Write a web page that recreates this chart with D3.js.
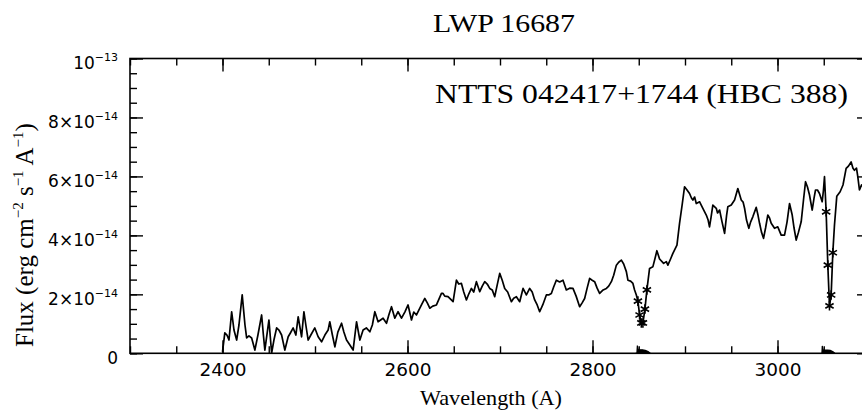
<!DOCTYPE html>
<html><head><meta charset="utf-8">
<script src="https://cdn.jsdelivr.net/npm/d3@7"></script>
<style>
html,body{margin:0;padding:0;background:#fff;}
svg{display:block;}
</style></head>
<body>
<svg id="chart" width="862" height="410"></svg>
<script>
// ---- data (flux in units of 1e-14 erg cm^-2 s^-1 A^-1) ----
const FLUX_UNIT = 1e-14;
const wavelength = [2400,2402.5,2404.8,2407,2409.9,2412.4,2415.3,2417.8,2421.3,2424.3,2426.1,2428.6,2431.5,2435,2438.3,2442.3,2444.2,2445.8,2450.2,2453.1,2455.6,2458.5,2461,2463.9,2467.4,2471,2473.4,2476.4,2479.3,2481.8,2485.5,2488,2490.1,2492.6,2495.5,2499.8,2503.4,2507.1,2510.7,2514.2,2516,2518.8,2521.5,2524.7,2528.7,2531.2,2534.1,2537.7,2541.2,2544.9,2548.5,2552,2555.5,2559.3,2562,2564.7,2568.2,2573.6,2577.3,2579.8,2582.7,2586.3,2589.8,2593.5,2597.1,2600.6,2604.3,2606.8,2609.7,2615.1,2618.7,2621.4,2624.1,2627.3,2631.3,2636.7,2638.4,2640.3,2643.8,2649.3,2652.9,2655.4,2658.3,2660.8,2663.7,2666.2,2669.1,2671.6,2674.5,2678.1,2680.8,2683.5,2686.2,2688.9,2691.6,2694.3,2697,2699.7,2702.4,2705.1,2708.3,2712.3,2714.8,2717.7,2721.3,2724.9,2728.5,2732.1,2734.8,2737.5,2740.2,2742.9,2746.2,2750.1,2752.6,2755.5,2758,2760.9,2764.5,2768.1,2771.7,2775.3,2778.9,2782.3,2786.1,2788.8,2791.5,2794.2,2796.9,2799.6,2802.3,2805,2807.7,2811.5,2815,2817.5,2820.4,2822.9,2825.8,2828.3,2831.2,2833.7,2836.6,2838.3,2841.2,2843.7,2845.5,2847.4,2849.1,2850.9,2852.8,2854.5,2856.7,2858.8,2861.7,2865.3,2867.7,2869.6,2872.5,2876.9,2879.8,2881.5,2884.4,2886.9,2889.3,2891.3,2894.1,2897.1,2899.5,2902.2,2904.9,2907.1,2908.5,2910.4,2912.2,2915.8,2919.3,2923,2925,2926.5,2928.2,2930.1,2933.8,2935.2,2937.4,2940.1,2942.8,2945,2946.3,2950,2953.6,2957.1,2960.8,2962.8,2964.4,2966.5,2969,2970.9,2973.3,2977,2978.9,2980.6,2982.7,2984.9,2987.1,2989.5,2991.4,2993.2,2996.8,3000.3,3004,3007.6,3010.3,3013,3015.9,3017.9,3020.2,3022.7,3025.6,3028.1,3030.3,3032.4,3034.6,3037.5,3039.5,3041.1,3043.2,3045.4,3048.3,3049.7,3050.8,3052.6,3054.4,3056.2,3058,3059.8,3061.6,3064.1,3067.7,3070.8,3074.2,3076.7,3079.6,3081.6,3083.2,3085.4,3086.8,3088.6,3090.8,3094];
const flux = [0.05,0.69,0.62,0.45,1.41,0.79,0.45,0.96,1.98,0.96,0.52,0.59,0.52,0.11,0.62,1.30,0.62,0.11,1.13,0.01,0.45,0.86,0.79,0.62,0.11,0.56,0.69,0.86,0.62,1.24,0.56,1.41,0.96,0.45,0.62,0.86,0.56,0.39,0.62,0.79,1.07,0.62,0.22,0.72,1.02,0.72,0.45,0.28,0.11,1.07,0.45,0.79,0.86,0.73,0.96,1.41,1.07,1.19,1.02,1.30,1.58,1.19,1.41,1.19,1.40,1.64,1.13,1.40,1.30,1.64,1.86,1.71,1.53,1.60,1.64,2.03,2.03,1.94,1.92,1.75,2.48,2.35,2.37,2.08,1.81,2.01,2.20,2.08,2.43,2.09,2.28,2.43,2.35,2.20,2.15,1.92,2.32,2.71,2.48,2.20,2.08,1.75,1.87,1.92,1.75,2.20,1.98,2.20,2.08,1.81,1.64,1.41,1.64,1.98,1.98,2.03,2.25,2.48,2.42,2.48,2.15,2.21,2.20,1.94,1.58,1.71,1.86,2.21,2.54,2.48,2.43,2.21,2.03,2.15,2.20,2.28,2.43,2.65,2.99,3.09,3.16,3.03,2.77,2.48,2.45,2.37,2.15,1.98,1.77,1.30,1.03,1.03,1.50,2.15,2.88,2.94,3.23,3.48,3.20,3.05,3.11,2.99,3.20,3.39,3.54,3.67,4.41,5.08,5.65,5.54,5.42,5.26,5.20,5.30,5.08,5.14,4.92,4.69,4.52,4.29,4.62,5.03,4.92,4.76,4.86,4.45,4.07,4.69,4.97,5.03,5.20,5.59,5.20,5.13,4.92,4.52,4.24,4.45,4.63,4.95,4.69,4.41,4.11,3.90,4.25,4.69,4.59,4.41,4.24,4.29,4.01,4.01,4.45,5.08,4.69,4.25,3.84,4.11,4.46,5.20,5.82,5.64,5.37,4.86,5.26,5.54,5.54,5.42,5.14,5.54,5.99,4.80,2.99,1.61,1.98,3.41,4.35,5.33,5.48,5.71,6.27,6.35,6.49,6.28,6.21,6.28,5.99,5.54,5.71,5.60];
// flagged (asterisk) points
const starWave = [2849.1,2850.9,2852.8,2854.5,2856.7,2858.8,3052.6,3054.4,3056.2,3058,3059.8];
const starFlux = [1.77,1.30,1.03,1.03,1.50,2.15,4.80,2.99,1.61,1.98,3.41];
// quality-flag bumps drawn along the zero line
const flagWave1 = [2846.5,2848,2848.5,2849.3,2851,2854,2857,2860,2862.5];
const flagFlux1 = [0,0,0.26,0.13,0.12,0.12,0.10,0.06,0];
const flagWave2 = [3047.5,3048,3048.4,3049.2,3051,3054,3057,3060,3062];
const flagFlux2 = [0,0,0.25,0.12,0.11,0.11,0.10,0.05,0];
// ticks
const xMajorTicks = [2400,2600,2800,3000];
const xMinorTicks = d3.range(2300,3101,50);
const yMajorTicks = [0,2e-14,4e-14,6e-14,8e-14,1e-13];
const yMinorTicks = d3.range(0,21).map(i=>i*0.5e-14);
const yTickBase = ["0","2×10","4×10","6×10","8×10","10"];
const yTickExp  = ["","−14","−14","−14","−14","−13"];
const titleText = "LWP 16687";
const objectText = "NTTS 042417+1744 (HBC 388)";
const xTitle = "Wavelength (A)";

// ---- layout ----
const L=130, R=870, T=58.5, B=353.3;
const svg = d3.select("#chart");
const x = d3.scaleLinear().domain([2300,3100]).range([L,R]);
const y = d3.scaleLinear().domain([0,1e-13]).range([B,T]);

const axisStyle = g => { g.select(".domain").remove(); g.selectAll("line").attr("stroke","#000").attr("stroke-width",1.4); };

// bottom
svg.append("g").attr("transform",`translate(0,${B})`)
  .call(d3.axisBottom(x).tickValues(xMinorTicks).tickSize(-7).tickFormat(""))
  .call(axisStyle);
const xb = svg.append("g").attr("transform",`translate(0,${B})`)
  .call(d3.axisBottom(x).tickValues(xMajorTicks).tickSize(-13).tickPadding(11).tickFormat(d3.format("d")))
  .call(axisStyle);
xb.selectAll("text").attr("font-family","'DejaVu Sans',sans-serif").attr("font-size",17)
  .attr("fill","#000").attr("textLength",47).attr("lengthAdjust","spacingAndGlyphs");
// top
svg.append("g").attr("transform",`translate(0,${T})`)
  .call(d3.axisTop(x).tickValues(xMinorTicks).tickSize(-7).tickFormat(""))
  .call(axisStyle);
svg.append("g").attr("transform",`translate(0,${T})`)
  .call(d3.axisTop(x).tickValues(xMajorTicks).tickSize(-13).tickFormat(""))
  .call(axisStyle);
// left
svg.append("g").attr("transform",`translate(${L},0)`)
  .call(d3.axisLeft(y).tickValues(yMinorTicks).tickSize(-7).tickFormat(""))
  .call(axisStyle);
const yl = svg.append("g").attr("transform",`translate(${L},0)`)
  .call(d3.axisLeft(y).tickValues(yMajorTicks).tickSize(-13).tickFormat(""))
  .call(axisStyle);
yl.selectAll(".tick").each(function(d,i){
  const t = d3.select(this).select("text")
    .attr("x",-12).attr("dy",null).attr("y",10)
    .attr("text-anchor","end").attr("fill","#000")
    .attr("font-family","'DejaVu Sans',sans-serif").attr("font-size",17);
  t.text(null);
  t.append("tspan").text(yTickBase[i]);
  if (yTickExp[i]) t.append("tspan").attr("dy",-8).attr("font-size",11).text(yTickExp[i]);
});
// right
svg.append("g").attr("transform",`translate(${R},0)`)
  .call(d3.axisRight(y).tickValues(yMinorTicks).tickSize(-7).tickFormat(""))
  .call(axisStyle);
svg.append("g").attr("transform",`translate(${R},0)`)
  .call(d3.axisRight(y).tickValues(yMajorTicks).tickSize(-13).tickFormat(""))
  .call(axisStyle);

// frame
svg.append("rect").attr("x",L).attr("y",T).attr("width",R-L).attr("height",B-T)
  .attr("fill","none").attr("stroke","#000").attr("stroke-width",1.6);

// spectrum
const pts = wavelength.map((w,i)=>[w,flux[i]*FLUX_UNIT]);
const line = d3.line().x(d=>x(d[0])).y(d=>y(d[1]));
svg.append("path").datum(pts).attr("d",line).attr("fill","none")
  .attr("stroke","#000").attr("stroke-width",1.7).attr("stroke-linejoin","round");

// flag bumps
[[flagWave1,flagFlux1],[flagWave2,flagFlux2]].forEach(([ws,fs])=>{
  const p = ws.map((w,i)=>[w,fs[i]*FLUX_UNIT]);
  svg.append("path").datum(p).attr("d",line).attr("fill","#000")
    .attr("stroke","#000").attr("stroke-width",1.2);
});

// asterisks
const sym = d3.symbol().type(d3.symbolAsterisk).size(64);
svg.append("g").selectAll("path").data(starWave.map((w,i)=>[w,starFlux[i]*FLUX_UNIT]))
  .join("path").attr("d",sym)
  .attr("transform",d=>`translate(${x(d[0])},${y(d[1])})`)
  .attr("fill","none").attr("stroke","#000").attr("stroke-width",1.6);

// texts
const serif = "'Liberation Serif','Times New Roman',serif";
svg.append("text").attr("x",433).attr("y",32).attr("font-family",serif).attr("font-size",25)
  .attr("textLength",142).attr("lengthAdjust","spacingAndGlyphs").text(titleText);
svg.append("text").attr("x",435).attr("y",103.3).attr("font-family",serif).attr("font-size",27)
  .attr("textLength",413).attr("lengthAdjust","spacingAndGlyphs").text(objectText);
svg.append("text").attr("x",420).attr("y",405).attr("font-family",serif).attr("font-size",22)
  .attr("textLength",142).attr("lengthAdjust","spacingAndGlyphs").text(xTitle);

// y title with superscripts
const yt = svg.append("text").attr("transform","translate(33,347) rotate(-90)")
  .attr("font-family",serif).attr("font-size",25);
yt.append("tspan").text("Flux (erg cm");
yt.append("tspan").attr("dy",-10).attr("font-size",15).text("−2");
yt.append("tspan").attr("dy",10).text(" s");
yt.append("tspan").attr("dy",-10).attr("font-size",15).text("−1");
yt.append("tspan").attr("dy",10).text(" A");
yt.append("tspan").attr("dy",-10).attr("font-size",15).text("−1");
yt.append("tspan").attr("dy",10).text(")");
</script>
</body></html>
